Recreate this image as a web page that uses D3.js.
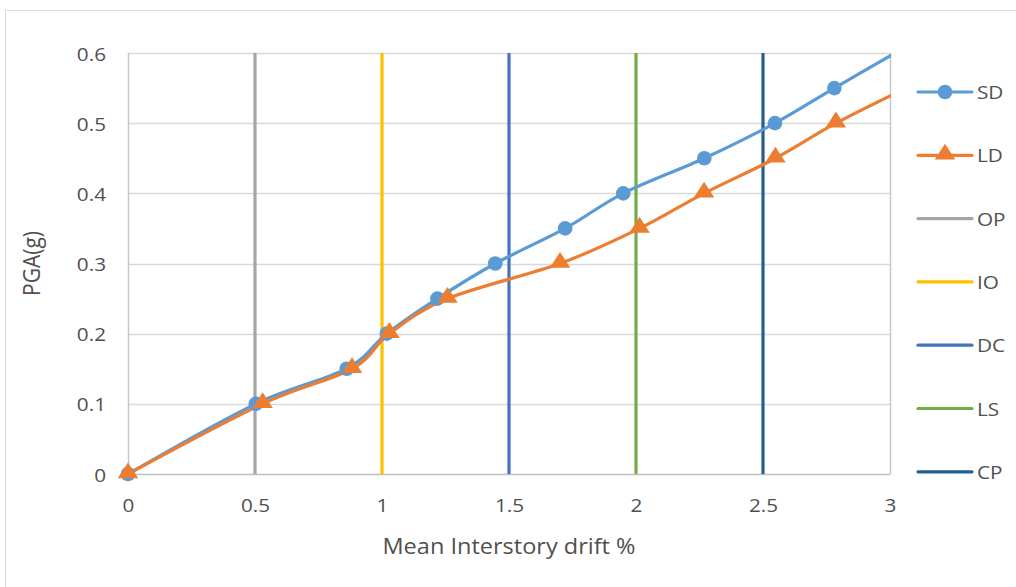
<!DOCTYPE html>
<html>
<head>
<meta charset="utf-8">
<script src="https://cdn.jsdelivr.net/npm/d3@7"></script>
<style>
  body { margin: 0; background: #fff; }
  text { font-family: "Open Sans", "Noto Sans", sans-serif; fill: #505050; }
</style>
</head>
<body>
<svg id="chart" width="1016" height="587"></svg>
<script>
// Pushover curves: mean interstory drift (%) against PGA (g)
const sdDrift = [0, 0.503, 0.861, 1.019, 1.218, 1.446, 1.721, 1.950, 2.269, 2.547, 2.781, 3.02];
const sdPGA   = [0, 0.10, 0.15, 0.20, 0.25, 0.30, 0.35, 0.40, 0.45, 0.50, 0.55, 0.60];
const ldDrift = [0, 0.530, 0.882, 1.029, 1.258, 1.701, 2.014, 2.268, 2.549, 2.787, 3.064];
const ldPGA   = [0, 0.10, 0.15, 0.20, 0.25, 0.30, 0.35, 0.40, 0.45, 0.50, 0.55];

// Performance-level drift limits
const limitNames = ["OP", "IO", "DC", "LS", "CP"];
const limitDrift = [0.5, 1, 1.5, 2, 2.5];
const limitPGA   = [0, 0.6];

const xTicks = [0, 0.5, 1, 1.5, 2, 2.5, 3];
const yTicks = [0, 0.1, 0.2, 0.3, 0.4, 0.5, 0.6];

const seriesNames  = ["SD", "LD"];
const seriesColors = ["#5B9BD5", "#ED7D31"];
const limitColors  = ["#A5A5A5", "#FFC000", "#4472C4", "#70AD47", "#255E91"];

const sx = 1.12; // horizontal text stretch

const svg = d3.select("#chart");
const plot = { left: 128, right: 890, top: 53, bottom: 474 };

const x = d3.scaleLinear().domain([0, 3]).range([plot.left, plot.right]);
const y = d3.scaleLinear().domain([0, 0.6]).range([plot.bottom, plot.top]);

// outer chart frame
svg.append("rect")
  .attr("x", 5.5).attr("y", 10.5)
  .attr("width", 1030).attr("height", 600)
  .attr("fill", "none").attr("stroke", "#D9D9D9").attr("stroke-width", 1);

// horizontal gridlines
svg.append("g")
  .selectAll("line")
  .data(yTicks.slice(1))
  .join("line")
  .attr("x1", plot.left).attr("x2", plot.right)
  .attr("y1", d => Math.round(y(d)) + 0.5).attr("y2", d => Math.round(y(d)) + 0.5)
  .attr("stroke", "#D9D9D9").attr("stroke-width", 1.5);

// plot-area side borders
svg.append("line")
  .attr("x1", plot.left + 0.5).attr("x2", plot.left + 0.5)
  .attr("y1", plot.top).attr("y2", plot.bottom)
  .attr("stroke", "#C8C8C8").attr("stroke-width", 1.5);
svg.append("line")
  .attr("x1", plot.right + 0.5).attr("x2", plot.right + 0.5)
  .attr("y1", plot.top).attr("y2", plot.bottom)
  .attr("stroke", "#C8C8C8").attr("stroke-width", 1.5);

// x axis
const xAxis = svg.append("g")
  .attr("transform", `translate(0,${plot.bottom})`)
  .call(d3.axisBottom(x).tickValues(xTicks).tickSize(0).tickFormat(d3.format("")));
xAxis.select(".domain").attr("stroke", "#BFBFBF").attr("stroke-width", 1.5);
xAxis.selectAll("text")
  .attr("y", 0).attr("dy", null)
  .attr("dominant-baseline", "central")
  .attr("transform", `translate(0,31) scale(${sx},1)`)
  .style("font-size", "18.5px");

// y axis
const yAxis = svg.append("g")
  .attr("transform", `translate(${plot.left},0)`)
  .call(d3.axisLeft(y).tickValues(yTicks).tickSize(0).tickFormat(d3.format("")));
yAxis.select(".domain").remove();
yAxis.selectAll("text")
  .attr("x", 0).attr("dy", null)
  .attr("dominant-baseline", "central")
  .attr("transform", `translate(-22,0) scale(${sx},1)`)
  .style("font-size", "18.5px");

// axis titles
svg.append("text")
  .attr("text-anchor", "middle")
  .attr("dominant-baseline", "central")
  .attr("transform", `translate(${(plot.left + plot.right) / 2},546) scale(${sx},1)`)
  .style("font-size", "21px")
  .text("Mean Interstory drift %");

svg.append("text")
  .attr("text-anchor", "middle")
  .attr("dominant-baseline", "central")
  .attr("transform", `translate(31,${(plot.top + plot.bottom) / 2}) rotate(-90) scale(1,${sx})`)
  .style("font-size", "21px")
  .text("PGA(g)");

// clip so lines stop at the axis maximum
svg.append("clipPath").attr("id", "plotClip")
  .append("rect")
  .attr("x", 0).attr("y", 0)
  .attr("width", plot.right + 1).attr("height", 587);

// vertical limit lines
const limitLine = d3.line().x(d => x(d[0])).y(d => y(d[1]));
svg.append("g")
  .selectAll("path")
  .data(limitDrift.map((v, i) => ({ v, i })))
  .join("path")
  .attr("d", d => limitLine(limitPGA.map(p => [d.v, p])))
  .attr("fill", "none")
  .attr("stroke", d => limitColors[d.i])
  .attr("stroke-width", 3.2);

// smoothed series
const curve = d3.line()
  .x(d => x(d[0])).y(d => y(d[1]))
  .curve(d3.curveCatmullRom.alpha(0));

const series = [
  sdDrift.map((v, i) => [v, sdPGA[i]]),
  ldDrift.map((v, i) => [v, ldPGA[i]])
];

const gSeries = svg.append("g").attr("clip-path", "url(#plotClip)");
series.forEach((pts, k) => {
  gSeries.append("path")
    .attr("d", curve(pts))
    .attr("fill", "none")
    .attr("stroke", seriesColors[k])
    .attr("stroke-width", 3.2)
    .attr("stroke-linejoin", "round");
});

const tri = d3.symbol().type(d3.symbolTriangle).size(145);
const inRange = d => d[0] <= x.domain()[1];

svg.append("g").selectAll("circle")
  .data(series[0].filter(inRange))
  .join("circle")
  .attr("cx", d => x(d[0])).attr("cy", d => y(d[1]))
  .attr("r", 7.3)
  .attr("fill", seriesColors[0]);

svg.append("g").selectAll("path")
  .data(series[1].filter(inRange))
  .join("path")
  .attr("d", tri)
  .attr("transform", d => `translate(${x(d[0])},${y(d[1]) - 1}) scale(1.12,1)`)
  .attr("fill", seriesColors[1]);

// legend
const legendNames  = seriesNames.concat(limitNames);
const legendColors = seriesColors.concat(limitColors);
const legend = svg.append("g");
legendNames.forEach((name, i) => {
  const ly = 92 + i * 63.3;
  const row = legend.append("g").attr("transform", `translate(0,${ly})`);
  row.append("line")
    .attr("x1", 918).attr("x2", 972)
    .attr("stroke", legendColors[i]).attr("stroke-width", 3.2)
    .attr("stroke-linecap", "round");
  if (i === 0) {
    row.append("circle").attr("cx", 945).attr("cy", 0).attr("r", 7.3).attr("fill", legendColors[i]);
  } else if (i === 1) {
    row.append("path").attr("d", tri)
      .attr("transform", `translate(945,-1) scale(1.12,1)`)
      .attr("fill", legendColors[i]);
  }
  row.append("text")
    .attr("dominant-baseline", "central")
    .attr("transform", `translate(977,0) scale(${sx},1)`)
    .style("font-size", "18.5px")
    .text(name);
});
</script>
</body>
</html>
